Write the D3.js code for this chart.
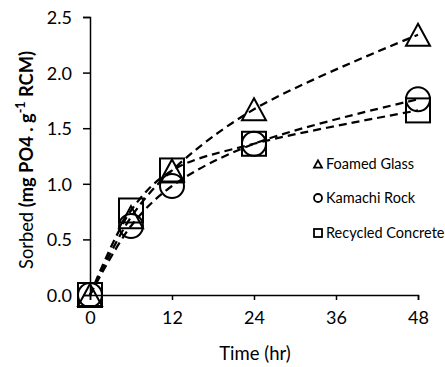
<!DOCTYPE html>
<html><head><meta charset="utf-8">
<script src="https://cdn.jsdelivr.net/npm/d3@7"></script>
<style>body{margin:0;background:#fff}svg{display:block}text{font-family:Lato,"Open Sans",sans-serif;fill:#000}</style>
</head><body>
<svg id="c" width="445" height="367"></svg>
<script>
const times = [0, 6, 12, 24, 48];
const seriesNames = ["Foamed Glass", "Kamachi Rock", "Recycled Concrete"];
const seriesSymbols = ["triangle", "circle", "square"];
const foamedGlass = [0, 0.70, 1.12, 1.67, 2.34];
const kamachiRock = [0, 0.62, 0.98, 1.36, 1.76];
const recycledConcrete = [0, 0.76, 1.12, 1.36, 1.66];
const xTicks = [0, 12, 24, 36, 48];
const yTicks = [0, 0.5, 1.0, 1.5, 2.0, 2.5];
const seriesValues = [foamedGlass, kamachiRock, recycledConcrete];

const svg = d3.select("#c");
const x = d3.scaleLinear().domain([0, 48]).range([90, 418]);
const y = d3.scaleLinear().domain([0, 2.5]).range([295, 17]);

// axes
const xAxis = svg.append("g").attr("transform", "translate(0,295)")
  .call(d3.axisBottom(x).tickValues(xTicks).tickSize(5).tickPadding(6).tickFormat(d3.format("d")));
const yAxis = svg.append("g").attr("transform", "translate(90,0)")
  .call(d3.axisLeft(y).tickValues(yTicks).tickSize(7).tickPadding(11).tickFormat(d3.format(".1f")));
[xAxis, yAxis].forEach(g => {
  g.select(".domain").attr("stroke", "#000").attr("stroke-width", 1.5);
  g.selectAll(".tick line").attr("stroke", "#000").attr("stroke-width", 1.5);
  g.selectAll(".tick text").style("font-size", "18px").attr("fill", "#000");
});
xAxis.selectAll(".tick text").attr("dy", "1.0em");
yAxis.selectAll(".tick text").attr("dy", "0.36em");

// axis titles
svg.append("text").attr("x", 255).attr("y", 360).attr("text-anchor", "middle")
  .style("font-size", "18.5px").text("Time (hr)");
const yl = svg.append("text").attr("transform", "translate(33,160) rotate(-90)")
  .attr("text-anchor", "middle").style("font-size", "18.3px");
yl.append("tspan").text("Sorbed ");
yl.append("tspan").style("font-weight", "bold").text("(mg PO4 . g");
yl.append("tspan").style("font-weight", "bold").style("font-size", "12.5px").attr("dy", -8).text("-1");
yl.append("tspan").style("font-weight", "bold").attr("dy", 8).text(" RCM)");

// lines
const line = d3.line().x(d => x(d[0])).y(d => y(d[1])).curve(d3.curveCatmullRom.alpha(0.5));
seriesValues.forEach(vals => {
  svg.append("path").datum(times.map((t, i) => [t, vals[i]]))
    .attr("d", line).attr("fill", "none").attr("stroke", "#000")
    .attr("stroke-width", 2.25).attr("stroke-dasharray", "8,5");
});

// markers
function marker(g, type, cx, cy, s) {
  if (type === "circle") {
    g.append("circle").attr("cx", cx).attr("cy", cy).attr("r", s / 2);
  } else if (type === "square") {
    g.append("rect").attr("x", cx - s / 2).attr("y", cy - s / 2).attr("width", s).attr("height", s);
  } else {
    const h = s * 0.92;
    g.append("path").attr("d", `M${cx},${cy - h / 2}L${cx + s / 2},${cy + h / 2}L${cx - s / 2},${cy + h / 2}Z`);
  }
}
seriesValues.forEach((vals, k) => {
  const g = svg.append("g").attr("fill", "none").attr("stroke", "#000").attr("stroke-width", 2);
  times.forEach((t, i) => marker(g, seriesSymbols[k], x(t), y(vals[i]), 24));
});

// legend
const legY = [164, 198, 233];
seriesNames.forEach((n, k) => {
  const g = svg.append("g").attr("fill", "none").attr("stroke", "#000").attr("stroke-width", 1.8);
  marker(g, seriesSymbols[k], 318, legY[k], 8);
  svg.append("text").attr("x", 326).attr("y", legY[k] + 5).style("font-size", "14.5px").text(n);
});
</script>
</body></html>
